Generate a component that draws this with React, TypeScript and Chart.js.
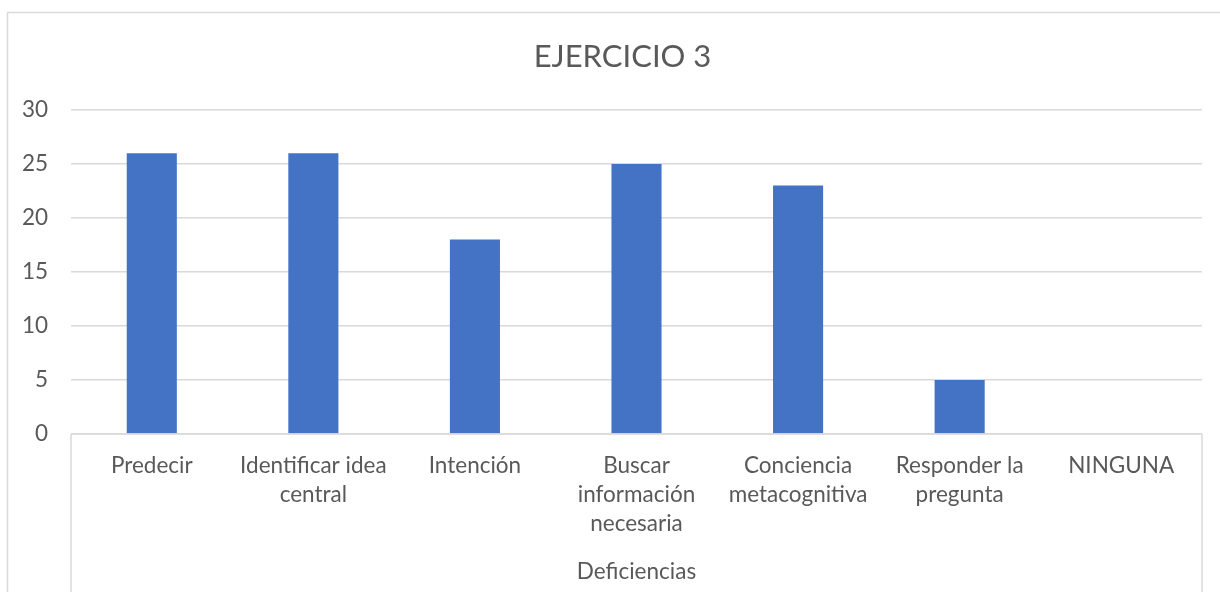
import React, { useEffect, useRef } from "react";
import { Chart, registerables } from "chart.js";

Chart.register(...registerables);

const chartTitle = "EJERCICIO 3";
const groupLabel = "Deficiencias";
const categories: string[][] = [
  ["Predecir"],
  ["Identificar idea", "central"],
  ["Intención"],
  ["Buscar", "información", "necesaria"],
  ["Conciencia", "metacognitiva"],
  ["Responder la", "pregunta"],
  ["NINGUNA"],
];
const values: number[] = [26, 26, 18, 25, 23, 5, 0];
const yTicks: number[] = [0, 5, 10, 15, 20, 25, 30];

const FONT = "Lato, 'Open Sans', sans-serif";
const TEXT = "#595959";
const LINE = "#D9D9D9";
const BAR = "#4472C4";

// Frame, category-axis box, title and group label
const decorations = {
  id: "decorations",
  beforeDraw(chart: Chart) {
    const { ctx, chartArea } = chart;
    ctx.save();
    ctx.fillStyle = "#ffffff";
    ctx.fillRect(0, 0, chart.width, chart.height);
    ctx.strokeStyle = LINE;
    ctx.lineWidth = 1.5;
    ctx.strokeRect(7.5, 12.5, chart.width + 20, chart.height + 20);
    ctx.restore();
  },
  afterDraw(chart: Chart) {
    const { ctx, chartArea } = chart;
    const { left, right, bottom } = chartArea;
    ctx.save();
    ctx.strokeStyle = LINE;
    ctx.lineWidth = 1.5;
    ctx.beginPath();
    ctx.moveTo(left, bottom);
    ctx.lineTo(right, bottom);
    ctx.moveTo(left, bottom);
    ctx.lineTo(left, chart.height);
    ctx.moveTo(right, bottom);
    ctx.lineTo(right, chart.height);
    ctx.stroke();

    ctx.fillStyle = TEXT;
    ctx.textAlign = "center";
    ctx.textBaseline = "middle";
    ctx.font = `31px ${FONT}`;
    ctx.fillText(chartTitle, 622.5, 57);
    ctx.font = `22.5px ${FONT}`;
    ctx.fillText(groupLabel, (left + right) / 2, 572);
    ctx.restore();
  },
};

export default function App() {
  const ref = useRef<HTMLCanvasElement | null>(null);

  useEffect(() => {
    if (!ref.current) return;
    const chart = new Chart(ref.current, {
      type: "bar",
      data: {
        labels: categories,
        datasets: [
          {
            data: values,
            backgroundColor: BAR,
            borderWidth: 0,
            barPercentage: 1,
            categoryPercentage: 0.31,
          },
        ],
      },
      options: {
        animation: false,
        responsive: false,
        maintainAspectRatio: false,
        layout: { padding: { top: 110, right: 18, left: 0, bottom: 0 } },
        plugins: {
          legend: { display: false },
          title: { display: false },
          tooltip: { enabled: false },
        },
        scales: {
          x: {
            grid: { display: false, drawTicks: false },
            border: { display: false },
            ticks: {
              color: TEXT,
              font: { family: FONT, size: 22.5, lineHeight: 1.29 },
              padding: 17.5,
              maxRotation: 0,
              autoSkip: false,
            },
            afterFit(scale: any) {
              scale.height = 158;
            },
          },
          y: {
            min: 0,
            max: 30,
            afterBuildTicks(scale: any) {
              scale.ticks = yTicks.map((v) => ({ value: v }));
            },
            grid: { color: LINE, lineWidth: 1.5, drawTicks: false },
            border: { display: false },
            ticks: {
              color: TEXT,
              font: { family: FONT, size: 22.5 },
              padding: 23,
            },
            afterFit(scale: any) {
              scale.width = 71;
            },
          },
        },
      },
      plugins: [decorations],
    });
    return () => chart.destroy();
  }, []);

  return (
    <div style={{ position: "fixed", left: 0, top: 0, width: 1220, height: 592, background: "#fff" }}>
      <canvas ref={ref} width={1220} height={592} style={{ display: "block" }} />
    </div>
  );
}
